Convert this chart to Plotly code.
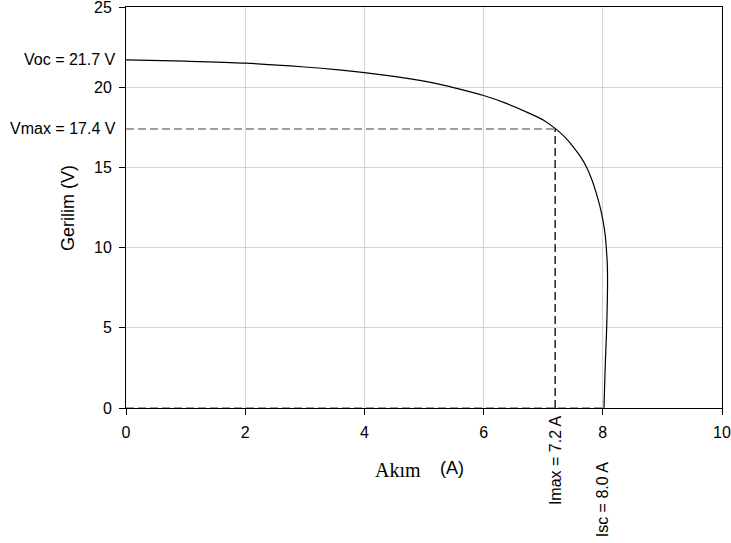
import plotly.graph_objects as go

# I-V curve data
current_A = [0, 1, 2, 3, 3.57, 4, 4.4, 4.8, 5.25, 5.6, 6.0, 6.38, 6.77, 7.0, 7.21, 7.36, 7.5, 7.62,
             7.73, 7.82, 7.89, 7.95, 8.0, 8.04, 8.06, 8.075, 8.08, 8.075, 8.065, 8.05, 8.035, 8.02]
voltage_V = [21.7, 21.62, 21.5, 21.26, 21.08, 20.91, 20.72, 20.5, 20.19, 19.88, 19.48, 18.99, 18.37, 17.95, 17.4, 16.9, 16.3, 15.7,
             15.0, 14.2, 13.4, 12.6, 11.75, 10.8, 9.9, 9.0, 8.0, 6.5, 5.0, 3.5, 2.0, 0]

Voc = 21.7
Vmax = 17.4
Imax = 7.2
Isc = 8.0

x_ticks = [0, 2, 4, 6, 8, 10]
y_ticks = [0, 5, 10, 15, 20, 25]

FONT = "Liberation Sans, Arial, sans-serif"
SERIF = "Liberation Serif, Times New Roman, serif"

W, H = 731, 543
ml, mr, mt, mb = 126, 9, 7, 135
pw, ph = W - ml - mr, H - mt - mb


def px_x(p):
    return (p - ml) / pw


def px_y(p):
    return (H - mb - p) / ph


fig = go.Figure()

# horizontal dashed line at Vmax (gray)
fig.add_trace(go.Scatter(x=[0, Imax], y=[Vmax, Vmax], mode="lines",
                         line=dict(color="#808080", width=1.5, dash="8px,4px"),
                         hoverinfo="skip", showlegend=False))
# dashed line along zero voltage (gray)
fig.add_trace(go.Scatter(x=[0, Isc], y=[0, 0], mode="lines",
                         line=dict(color="#808080", width=1.5, dash="8px,4px"),
                         hoverinfo="skip", showlegend=False, cliponaxis=False))
# vertical dashed line at Imax (black)
fig.add_trace(go.Scatter(x=[Imax, Imax], y=[0, Vmax], mode="lines",
                         line=dict(color="black", width=1.3, dash="8px,4px"),
                         hoverinfo="skip", showlegend=False))
# I-V curve
fig.add_trace(go.Scatter(x=current_A, y=voltage_V, mode="lines",
                         line=dict(color="black", width=1.2, shape="spline", smoothing=0.8),
                         showlegend=False))

annotations = [
    dict(text=f"Voc = {Voc} V", x=0, y=Voc, xref="paper", yref="y",
         xanchor="right", yanchor="middle", xshift=-8, showarrow=False,
         font=dict(family=FONT, size=16, color="black")),
    dict(text=f"Vmax = {Vmax} V", x=0, y=Vmax, xref="paper", yref="y",
         xanchor="right", yanchor="middle", xshift=-8, showarrow=False,
         font=dict(family=FONT, size=16, color="black")),
    dict(text=f"Imax = {Imax} A", x=Imax, y=0, xref="x", yref="paper",
         xanchor="center", yanchor="top", yshift=-5, textangle=-90, showarrow=False,
         font=dict(family=FONT, size=16, color="black")),
    dict(text=f"Isc = {Isc:.1f} A", x=Isc, y=0, xref="x", yref="paper",
         xanchor="center", yanchor="top", yshift=-52, textangle=-90, showarrow=False,
         font=dict(family=FONT, size=16, color="black")),
    dict(text="Akım", x=px_x(398), y=px_y(470), xref="paper", yref="paper",
         xanchor="center", yanchor="middle", showarrow=False,
         font=dict(family=SERIF, size=20, color="black")),
    dict(text="(A)", x=px_x(452), y=px_y(468), xref="paper", yref="paper",
         xanchor="center", yanchor="middle", showarrow=False,
         font=dict(family=FONT, size=18, color="black")),
    dict(text="Gerilim (V)", x=px_x(68), y=px_y(208), xref="paper", yref="paper",
         xanchor="center", yanchor="middle", textangle=-90, showarrow=False,
         font=dict(family=FONT, size=18, color="black")),
]

fig.update_layout(
    width=W, height=H,
    margin=dict(l=ml, r=mr, t=mt, b=mb, autoexpand=False),
    plot_bgcolor="white", paper_bgcolor="white",
    font=dict(family=FONT, size=16, color="black"),
    annotations=annotations,
    xaxis=dict(range=[0, 10], tickvals=x_ticks, ticktext=[str(v) for v in x_ticks],
               showgrid=True, gridcolor="#d4d4d4", gridwidth=1,
               showline=True, linecolor="black", linewidth=1, mirror=True,
               ticks="outside", ticklen=6, tickcolor="black", ticklabelstandoff=4,
               ticklabeloverflow="allow",
               zeroline=False, tickfont=dict(size=16), automargin=False),
    yaxis=dict(range=[0, 25], tickvals=y_ticks, ticktext=[str(v) for v in y_ticks],
               showgrid=True, gridcolor="#d4d4d4", gridwidth=1,
               showline=True, linecolor="black", linewidth=1, mirror=True,
               ticks="outside", ticklen=6, tickcolor="black", ticklabelstandoff=4,
               ticklabeloverflow="allow",
               zeroline=False, tickfont=dict(size=16), automargin=False),
)

fig.write_html("out.html", config={"displayModeBar": False},
               post_script="document.body.style.margin='0px';")
